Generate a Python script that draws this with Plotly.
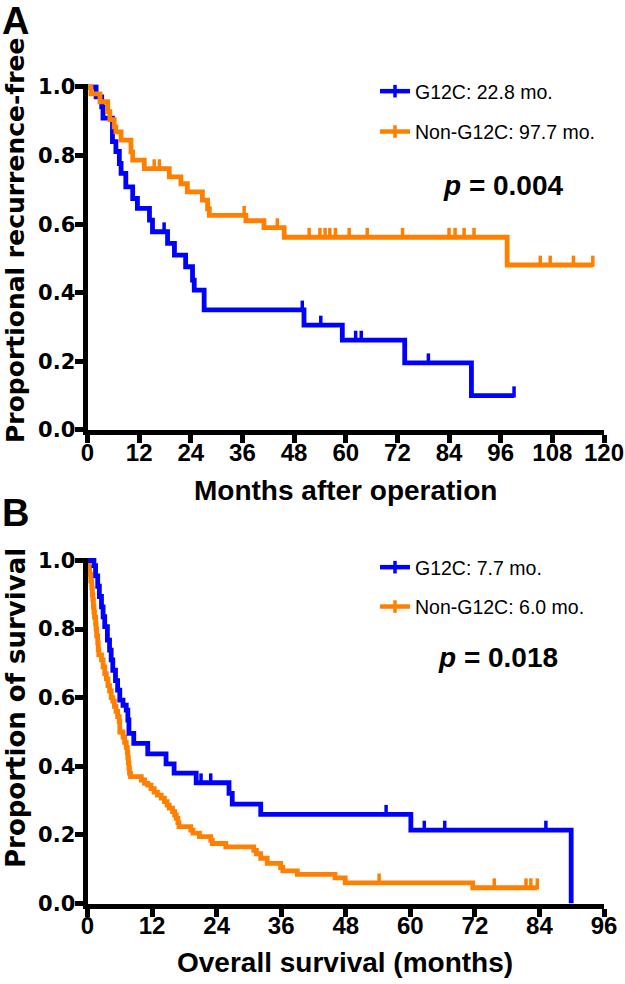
import numpy as np
import plotly.graph_objects as go

# ---------------- DATA ----------------
# Panel A: recurrence-free (months after operation)
A_g12c_time = [0, 2.0, 3.3, 3.6, 5.8, 6.6, 7.4, 7.8, 8.9, 10.5, 11.6, 14.4, 15.1, 18.6, 20.2,
               22.8, 24.4, 24.8, 27.1, 50.3, 59.2, 73.7, 89.2]
A_g12c_surv = [1.0, 0.971, 0.942, 0.909, 0.841, 0.812, 0.777, 0.748, 0.709, 0.675, 0.646,
               0.612, 0.578, 0.544, 0.510, 0.476, 0.437, 0.408, 0.350, 0.306, 0.262, 0.196, 0.100]
A_g12c_end = 99.1
A_g12c_censor = [17.8, 49.9, 54.2, 62.3, 63.6, 79.2, 99.1]

A_non_time = [0, 0.8, 2.9, 4.7, 5.2, 6.2, 6.6, 7.8, 10.1, 10.5, 13.2, 19.0, 21.7, 23.2, 26.7,
              27.9, 28.3, 36.8, 41.0, 45.7, 97.5]
A_non_surv = [1.0, 0.980, 0.957, 0.928, 0.905, 0.884, 0.869, 0.845, 0.811, 0.787, 0.762, 0.738,
              0.718, 0.694, 0.670, 0.645, 0.626, 0.610, 0.590, 0.562, 0.481]
A_non_end = 117.4
A_non_censor = [15.5, 16.7, 36.4, 44.1, 51.5, 54.0, 55.2, 56.3, 57.6, 60.8, 65.0, 73.2, 84.0,
                85.4, 87.5, 89.8, 105.2, 107.5, 112.9, 117.4]

# Panel B: overall survival (months)
B_g12c_time = [0, 1.2, 1.5, 1.9, 2.2, 2.6, 2.9, 3.2, 3.7, 4.1, 4.4, 4.7, 5.2, 5.6, 6.0, 6.6,
               7.2, 7.5, 7.7, 8.6, 11.2, 14.6, 16.1, 20.2, 26.3, 26.9, 32.2, 60.1, 89.9]
B_g12c_surv = [1.0, 0.985, 0.955, 0.925, 0.895, 0.865, 0.836, 0.807, 0.768, 0.739, 0.710, 0.680,
               0.650, 0.622, 0.593, 0.578, 0.564, 0.535, 0.496, 0.467, 0.436, 0.407, 0.380,
               0.352, 0.321, 0.290, 0.260, 0.214, 0.0]
B_g12c_end = 89.9
B_g12c_censor = [21.1, 22.9, 55.5, 62.6, 66.4, 85.2]

B_non_time = [0, 0.2, 0.4, 0.6, 0.8, 0.9, 1.0, 1.1, 1.2, 1.3, 1.5, 1.6, 1.7, 1.9, 2.0, 2.1, 2.6,
              2.9, 3.2, 3.5, 3.8, 4.1, 4.4, 4.7, 5.0, 5.3, 5.6, 5.9, 6.0, 6.6, 6.9, 7.2, 7.4, 7.5,
              7.6, 7.7, 7.8, 8.0, 10.0, 10.6, 11.2, 11.8, 12.4, 13.0, 13.7, 14.3, 14.8, 15.2,
              15.8, 16.2, 16.5, 16.8, 17.0, 19.2, 19.6, 20.8, 22.9, 23.2, 25.7, 30.9, 31.4, 32.2,
              33.4, 35.9, 36.3, 39.0, 46.0, 47.9, 71.6]
B_non_surv = [1.0, 0.98, 0.96, 0.94, 0.92, 0.90, 0.885, 0.865, 0.85, 0.835, 0.815, 0.80, 0.78,
              0.76, 0.74, 0.725, 0.71, 0.69, 0.67, 0.655, 0.635, 0.62, 0.60, 0.59, 0.575, 0.56,
              0.545, 0.53, 0.50, 0.485, 0.47, 0.455, 0.44, 0.425, 0.41, 0.395, 0.38, 0.37, 0.36,
              0.35, 0.345, 0.335, 0.325, 0.316, 0.307, 0.297, 0.287, 0.278, 0.268, 0.258, 0.248,
              0.236, 0.224, 0.214, 0.205, 0.195, 0.185, 0.175, 0.165, 0.155, 0.145, 0.132, 0.117,
              0.105, 0.095, 0.085, 0.075, 0.060, 0.046]
B_non_end = 83.6
B_non_censor = [54.2, 75.6, 81.5, 82.4, 83.6]

A_x_ticks = [0, 12, 24, 36, 48, 60, 72, 84, 96, 108, 120]
B_x_ticks = [0, 12, 24, 36, 48, 60, 72, 84, 96]
y_ticks = [0.0, 0.2, 0.4, 0.6, 0.8, 1.0]
y_tick_text = ["0.0", "0.2", "0.4", "0.6", "0.8", "1.0"]

A_labels = ["G12C: 22.8 mo.", "Non-G12C: 97.7 mo."]
B_labels = ["G12C: 7.7 mo.", "Non-G12C: 6.0 mo."]
A_p = "<i>p</i> = 0.004"
B_p = "<i>p</i> = 0.018"

BLUE = "#0000FF"
ORANGE = "#FF8000"

W, H = 625, 984


def px_x(p):
    return p / W


def px_y(p):
    return 1 - p / H


def step_xy(t, s, end):
    x = list(t)
    y = list(s)
    if end > x[-1]:
        x.append(end)
        y.append(y[-1])
    return x, y


def censor_y(t, s, c):
    idx = np.searchsorted(np.array(t), np.array(c), side="right") - 1
    return [s[i] for i in idx]


fig = go.Figure()

LW = 4.8
series = [
    ("x", "y", A_g12c_time, A_g12c_surv, A_g12c_end, A_g12c_censor, BLUE),
    ("x", "y", A_non_time, A_non_surv, A_non_end, A_non_censor, ORANGE),
    ("x2", "y2", B_non_time, B_non_surv, B_non_end, B_non_censor, ORANGE),
    ("x2", "y2", B_g12c_time, B_g12c_surv, B_g12c_end, B_g12c_censor, BLUE),
]
for xa, ya, t, s, end, cens, col in series:
    x, y = step_xy(t, s, end)
    fig.add_trace(go.Scatter(x=x, y=y, mode="lines", line=dict(color=col, width=LW, shape="hv"),
                             xaxis=xa, yaxis=ya, showlegend=False, hoverinfo="skip"))
    cy = censor_y(t, s, cens)
    fig.add_trace(go.Scatter(x=cens, y=[v + 0.011 for v in cy], mode="markers",
                             marker=dict(symbol="line-ns", size=8, color=col,
                                         line=dict(color=col, width=3.5)),
                             xaxis=xa, yaxis=ya, showlegend=False, hoverinfo="skip",
                             cliponaxis=False))

# legend entries
for lg, labels, xa, ya in [("legend", A_labels, "x", "y"), ("legend2", B_labels, "x2", "y2")]:
    for i, (lab, col) in enumerate(zip(labels, [BLUE, ORANGE])):
        fig.add_trace(go.Scatter(x=[None], y=[None], mode="lines+markers", name=lab,
                                 line=dict(color=col, width=4.5),
                                 marker=dict(symbol="line-ns", size=9, color=col,
                                             line=dict(color=col, width=3.5)),
                                 legend=lg, legendgroup=lg + str(i), xaxis=xa, yaxis=ya))

XDOM = [px_x(87.5), px_x(604)]
A_top, A_bot = 87.0, 430.0
B_top, B_bot = 560.5, 903.5
YR = [0, 1.008]


def ydom(top, bot):
    ext = (bot - top) * 0.008
    return [px_y(bot), px_y(top - ext)]


ytickfont = dict(family="DejaVu Sans", size=21, color="black", weight="bold")
xtickfont = dict(family="Liberation Sans", size=24, color="black", weight="bold")

common_axis = dict(showline=True, linewidth=5, linecolor="black", ticks="outside",
                   ticklen=8, tickwidth=5, tickcolor="black", showgrid=False,
                   zeroline=False, fixedrange=True, automargin=False)
xaxis_extra = dict(ticklabelstandoff=-11)
yaxis_extra = dict(ticklabelstandoff=-5)

legend_font = dict(family="Liberation Sans", size=19.5, color="black")
fig.update_layout(
    template="none",
    width=W, height=H,
    margin=dict(l=0, r=0, t=0, b=0, pad=0, autoexpand=False),
    plot_bgcolor="white", paper_bgcolor="white",
    xaxis=dict(domain=XDOM, anchor="y", range=[0, 120], tickvals=A_x_ticks,
               tickfont=xtickfont, **common_axis, **xaxis_extra),
    yaxis=dict(domain=ydom(A_top, A_bot), anchor="x", range=YR, tickvals=y_ticks,
               ticktext=y_tick_text, tickfont=ytickfont, **common_axis, **yaxis_extra),
    xaxis2=dict(domain=XDOM, anchor="y2", range=[0, 96], tickvals=B_x_ticks,
                tickfont=xtickfont, **common_axis, **xaxis_extra),
    yaxis2=dict(domain=ydom(B_top, B_bot), anchor="x2", range=YR, tickvals=y_ticks,
                ticktext=y_tick_text, tickfont=ytickfont, **common_axis, **yaxis_extra),
    legend=dict(x=px_x(375), y=px_y(72), xanchor="left", yanchor="top", font=legend_font,
                bgcolor="rgba(0,0,0,0)", traceorder="grouped", tracegroupgap=12,
                itemwidth=30),
    legend2=dict(x=px_x(375), y=px_y(548), xanchor="left", yanchor="top", font=legend_font,
                 bgcolor="rgba(0,0,0,0)", traceorder="grouped", tracegroupgap=11,
                 itemwidth=30),
)

ann = []
bold = lambda size, fam="Liberation Sans": dict(family=fam, size=size, color="black", weight="bold")
# panel letters
ann.append(dict(text="A", x=px_x(0), y=px_y(21), xanchor="left", yanchor="middle", font=bold(38)))
ann.append(dict(text="B", x=px_x(0), y=px_y(513), xanchor="left", yanchor="middle", font=bold(38)))
# y titles
ann.append(dict(text="Proportional recurrence-free", x=px_x(16), y=px_y(241), textangle=-90,
                xanchor="center", yanchor="middle", font=bold(25, "DejaVu Sans")))
ann.append(dict(text="Proportion of survival", x=px_x(16), y=px_y(708), textangle=-90,
                xanchor="center", yanchor="middle", font=bold(26, "DejaVu Sans")))
# x titles
ann.append(dict(text="Months after operation", x=px_x(345), y=px_y(490),
                xanchor="center", yanchor="middle", font=bold(28)))
ann.append(dict(text="Overall survival (months)", x=px_x(345), y=px_y(962),
                xanchor="center", yanchor="middle", font=bold(28)))
# p values
ann.append(dict(text=A_p, x=px_x(503), y=px_y(186), xanchor="center", yanchor="middle",
                font=bold(28)))
ann.append(dict(text=B_p, x=px_x(498), y=px_y(657), xanchor="center", yanchor="middle",
                font=bold(28)))
for a in ann:
    a.update(xref="paper", yref="paper", showarrow=False)
fig.update_layout(annotations=ann)

fig.write_html("out.html", config={"displayModeBar": False, "staticPlot": True},
               post_script="document.body.style.margin='0px';")
